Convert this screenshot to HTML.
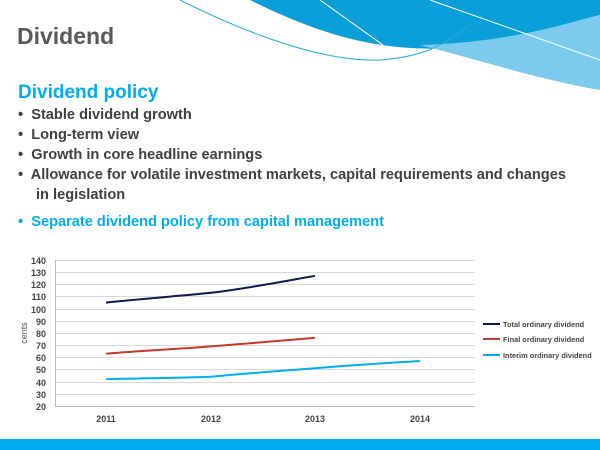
<!DOCTYPE html>
<html><head><style>
body{margin:0;width:600px;height:450px;overflow:hidden;background:#fff;font-family:"Liberation Sans",sans-serif;position:relative}
.t{position:absolute;font-weight:bold}
</style></head><body>
<svg width="600" height="450" style="position:absolute;left:0;top:0">
<path d="M250,0 C320,35 380,52 450,48 C510,42 560,25 600,15 L600,0 Z" fill="#0a9fd8"/>
<path d="M420,45 C480,60 540,80 600,90 L600,15 C560,25 510,42 420,45Z" fill="#7ccbef"/>
<path d="M180,0 C260,40 330,62 380,60 C420,57 440,48 470,25" stroke="#29a9dc" fill="none" stroke-width="1"/>
<path d="M320,0 L383,45" stroke="#fff" stroke-width="1"/>
<path d="M430,0 L600,60" stroke="#fff" stroke-width="1"/>
<rect x="0" y="439" width="600" height="11" fill="#00aeef"/>
<g stroke="#d9d9d9" stroke-width="1">
<line x1="55" x2="475" y1="260.5" y2="260.5"/><line x1="55" x2="475" y1="272.5" y2="272.5"/><line x1="55" x2="475" y1="284.5" y2="284.5"/><line x1="55" x2="475" y1="296.5" y2="296.5"/><line x1="55" x2="475" y1="309.5" y2="309.5"/><line x1="55" x2="475" y1="321.5" y2="321.5"/><line x1="55" x2="475" y1="333.5" y2="333.5"/><line x1="55" x2="475" y1="345.5" y2="345.5"/><line x1="55" x2="475" y1="357.5" y2="357.5"/><line x1="55" x2="475" y1="369.5" y2="369.5"/><line x1="55" x2="475" y1="382.5" y2="382.5"/><line x1="55" x2="475" y1="394.5" y2="394.5"/>
<line x1="55" x2="475" y1="406.5" y2="406.5" stroke="#bbb"/>
<line x1="55.5" x2="55.5" y1="260" y2="406" stroke="#bbb"/>
</g>
<g fill="none" stroke-width="2">
<path d="M106,302.6 C150,298 180,296 211,292.8 C250,288 280,282 315,275.8" stroke="#0d1a4d"/>
<path d="M106,353.7 C150,350 180,349 211,346.4 C250,343 280,341 315,337.9" stroke="#c0392b"/>
<path d="M106,379.2 C150,378 180,378 211,376.8 C250,373 280,371 315,368.3 C350,365 390,363 420,361" stroke="#00aeef"/>
<line x1="483" x2="500" y1="324" y2="324" stroke="#0d1a4d"/>
<line x1="483" x2="500" y1="339" y2="339" stroke="#c0392b"/>
<line x1="483" x2="500" y1="355" y2="355" stroke="#00aeef"/>
</g>
<g font-size="9" fill="#444" font-weight="bold" text-anchor="end">
<text x="46" y="264">140</text><text x="46" y="276">130</text><text x="46" y="288">120</text><text x="46" y="300">110</text><text x="46" y="313">100</text><text x="46" y="325">90</text><text x="46" y="337">80</text><text x="46" y="349">70</text><text x="46" y="361">60</text><text x="46" y="373">50</text><text x="46" y="386">40</text><text x="46" y="398">30</text><text x="46" y="410">20</text>
</g>
<g font-size="9" fill="#444" font-weight="bold" text-anchor="middle">
<text x="106" y="422">2011</text><text x="211" y="422">2012</text><text x="315" y="422">2013</text><text x="420" y="422">2014</text>
</g>
<text transform="translate(27,333) rotate(-90)" font-size="9" fill="#555" text-anchor="middle">cents</text>
<g font-size="7.4" fill="#444" font-weight="bold">
<text x="503" y="327">Total ordinary dividend</text>
<text x="503" y="342">Final ordinary dividend</text>
<text x="503" y="358">Interim ordinary dividend</text>
</g>
</svg>
<div class="t" style="left:17px;top:23px;font-size:23px;color:#595959">Dividend</div>
<div class="t" style="left:18px;top:82px;font-size:19px;color:#00aeef">Dividend policy</div>
<div class="t" style="left:18px;top:105px;font-size:14.6px;line-height:20px;color:#404040">
<div>•&nbsp; Stable dividend growth</div>
<div>•&nbsp; Long-term view</div>
<div>•&nbsp; Growth in core headline earnings</div>
<div>•&nbsp; Allowance for volatile investment markets, capital requirements and changes</div>
<div style="padding-left:18px">in legislation</div>
<div style="margin-top:7px;color:#00aeef">•&nbsp; Separate dividend policy from capital management</div>
</div>
</body></html>
